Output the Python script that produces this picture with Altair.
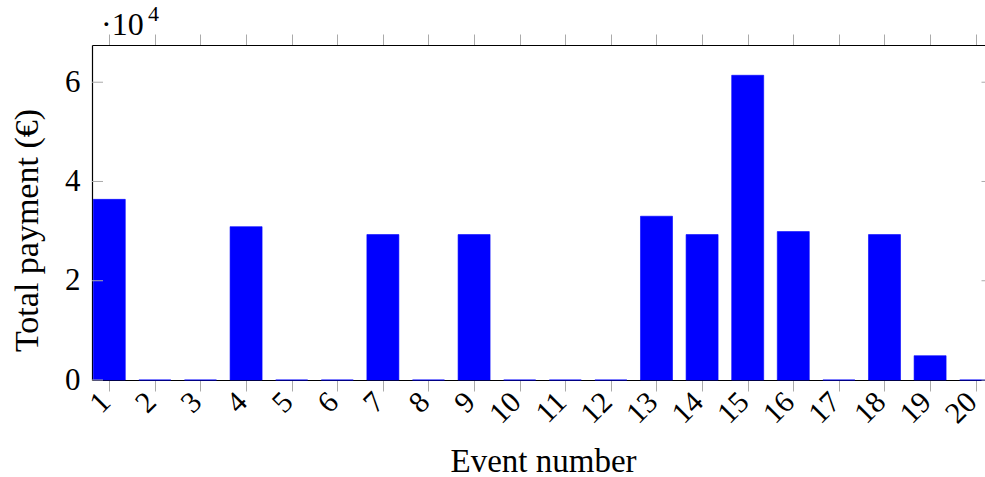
import altair as alt
import pandas as pd

events = list(range(1, 21))
payments = [36400, 0, 0, 30900, 0, 0, 29300, 0, 29300, 0,
            0, 0, 33000, 29300, 61400, 29900, 0, 29300, 4900, 0]
y_ticks = [0, 20000, 40000, 60000]
x_title = "Event number"
y_title = "Total payment (€)"

FONT = "Liberation Serif"
W, H = 893, 335

df = pd.DataFrame({"event": events, "payment": payments})
tick_df = pd.DataFrame({"v": y_ticks})

xscale = alt.Scale(domain=[0.621, 20.204], nice=False, zero=False, padding=0)
yscale = alt.Scale(domain=[0, 67500], nice=False, padding=0)

bars = alt.Chart(df).mark_bar(size=32, color="#0000ff", stroke="#0000ff", strokeWidth=0.6).encode(
    x=alt.X("event:Q", scale=xscale,
            axis=alt.Axis(values=events, title=x_title, labelAngle=-45, labelAlign="right",
                          labelBaseline="middle", labelPadding=6, labelOffset=-4, tickSize=11,
                          tickColor="#aaaaaa",
                          tickWidth=1, domainColor="black", domainWidth=1.2, grid=False,
                          labelFont=FONT, labelFontSize=30, labelColor="black",
                          titleFont=FONT, titleFontSize=33, titleFontWeight="normal", titleColor="black",
                          titleX=451, titleY=91, titleBaseline="alphabetic", titleAlign="center",
                          labelFlush=False, labelOverlap=False)),
    y=alt.Y("payment:Q", scale=yscale,
            axis=alt.Axis(values=y_ticks, title=y_title, ticks=False, labelPadding=12,
                          labelExpr="datum.value / 10000", domainColor="black", domainWidth=1.2,
                          grid=False, labelFont=FONT, labelFontSize=31, labelColor="black",
                          labelBaseline="middle",
                          titleFont=FONT, titleFontSize=34, titleFontWeight="normal", titleColor="black",
                          titleX=-65, titleY=185, titleAngle=-90, titleAlign="center",
                          titleBaseline="middle")),
)

top_axis = alt.Chart(df).mark_point(opacity=0).encode(
    x=alt.X("event:Q", scale=xscale,
            axis=alt.Axis(orient="top", values=events, labels=False, title=None, tickSize=11,
                          tickColor="#aaaaaa", domainColor="black", domainWidth=1.2, grid=False)),
)

left_ticks = alt.Chart(tick_df).mark_rule(color="#aaaaaa", strokeWidth=1).encode(
    y=alt.Y("v:Q", scale=yscale), x=alt.value(0), x2=alt.value(11)
)
right_ticks = alt.Chart(tick_df).mark_rule(color="#aaaaaa", strokeWidth=1).encode(
    y=alt.Y("v:Q", scale=yscale), x=alt.value(W - 3.5), x2=alt.value(W)
)

exp_base = alt.Chart(pd.DataFrame({"t": ["·10"]})).mark_text(
    font=FONT, fontSize=32, align="left", baseline="alphabetic", color="black"
).encode(text="t:N", x=alt.value(9), y=alt.value(-10))
exp_pow = alt.Chart(pd.DataFrame({"t": ["4"]})).mark_text(
    font=FONT, fontSize=22, align="left", baseline="alphabetic", color="black"
).encode(text="t:N", x=alt.value(56), y=alt.value(-24))

chart = alt.layer(bars, top_axis, left_ticks, right_ticks, exp_base, exp_pow).resolve_axis(
    x="independent"
).properties(
    width=W, height=H,
    autosize=alt.AutoSizeParams(type="none"),
    padding={"left": 92, "top": 45, "right": 0, "bottom": 97},
    background="white",
).configure_view(stroke=None)

chart.save("out.html", embed_options={"renderer": "svg", "actions": False})
